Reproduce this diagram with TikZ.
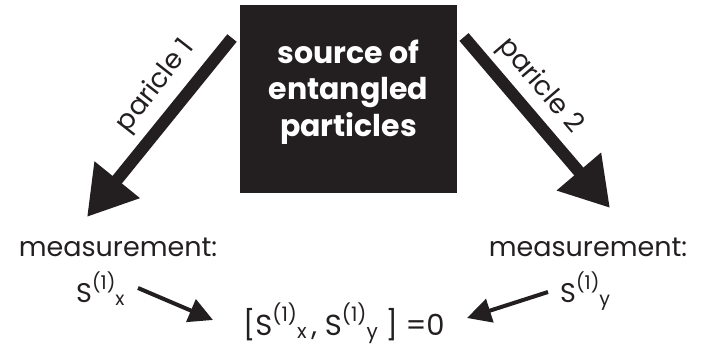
\documentclass[tikz,border=0pt]{standalone}
\usepackage{fontspec}
\setmainfont{Poppins}
\usetikzlibrary{arrows.meta}
\definecolor{ink}{HTML}{231F20}
\newcommand\opS[2]{S\raisebox{0.45em}{\fontsize{#2}{#2}\selectfont(1)}\raisebox{-0.12em}{\fontsize{#2}{#2}\selectfont #1}}
\tikzset{
  bigarrow/.style={draw=ink,line width=12pt,-{Triangle[length=48pt,width=55pt]}},
  smallarrow/.style={draw=ink,line width=4pt,-{Triangle[length=24pt,width=24pt]}},
  srcbox/.style={fill=ink,minimum width=217pt,minimum height=188pt,inner sep=0pt},
  srctext/.style={text=white,inner sep=0pt,align=center,font=\fontsize{30}{36.5}\selectfont\bfseries},
  meas/.style={text=ink,inner sep=0pt,font=\fontsize{27}{27}\selectfont},
  plabel/.style={text=ink,inner sep=0pt,font=\fontsize{27}{27}\selectfont},
  comm/.style={text=ink,inner sep=0pt,font=\fontsize{29}{29}\selectfont}
}
\begin{document}
\begin{tikzpicture}[x=1pt,y=1pt]
\useasboundingbox (0,0) rectangle (704,-347);
\node[srcbox] (src) at (348.5,-99) {};
\node[srctext] (srct) at (348.5,-92) {source of\\entangled\\particles};
\coordinate (a1s) at (232,-38);
\coordinate (a1e) at (87,-217);
\coordinate (a2s) at (464,-37);
\coordinate (a2e) at (610,-208);
\draw[bigarrow] (a1s) -- (a1e);
\draw[bigarrow] (a2s) -- (a2e);
\node[plabel,rotate=52] (lab1) at (156,-86) {paricle 1};
\node[plabel,rotate=-49.5] (lab2) at (540,-86) {paricle 2};
\node[meas,anchor=base] (m1) at (118,-257) {measurement:};
\node[meas,anchor=base] (m2) at (588,-257) {measurement:};
\node[meas,anchor=base west] (sx) at (76,-302) {\opS{x}{19}};
\node[meas,anchor=base west] (sy) at (560,-302) {\opS{y}{19}};
\node[comm,anchor=base west] (cm) at (243,-335) {[\opS{x}{20}\,, \opS{y}{20}\ ] =0};
\coordinate (b1s) at (138,-288);
\coordinate (b1e) at (213,-320);
\coordinate (b2s) at (548,-292);
\coordinate (b2e) at (467,-318);
\draw[smallarrow] (b1s) -- (b1e);
\draw[smallarrow] (b2s) -- (b2e);
\end{tikzpicture}
\end{document}
